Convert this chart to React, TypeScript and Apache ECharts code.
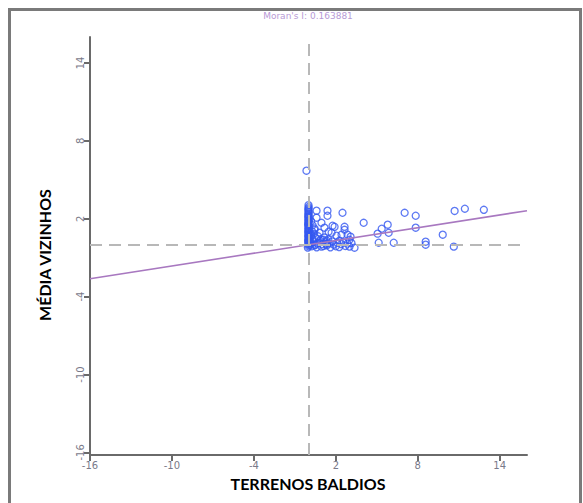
import React, { useEffect, useRef } from "react";
import * as echarts from "echarts";

// Tick labels (both axes)
const xTicks = [-16, -10, -4, 2, 8, 14];
const yTicks = [-16, -10, -4, 2, 8, 14];

// Column of observations with x ≈ 0 (standardized value at zero)
const columnX = [-0.05, 0.0, 0.03, -0.02, 0.02, 0.0, -0.03, 0.01, 0.0, 0.02, -0.01, 0.0, 0.03, -0.02, 0.0, 0.01, -0.01, 0.02, 0.0, -0.02, 0.01, 0.0, 0.02, -0.01, 0.0, 0.01, -0.02, 0.0, 0.02, 0.0, -0.01, 0.0, 0.01, 0.0, 0.02, -0.01, 0.0, 0.01, -0.02, 0.0, 0.01, -0.15];
const columnY = [-0.22, -0.12, -0.03, 0.06, 0.14, 0.22, 0.31, 0.4, 0.5, 0.6, 0.7, 0.8, 0.9, 1.0, 1.1, 1.2, 1.3, 1.4, 1.5, 1.6, 1.7, 1.8, 1.9, 2.0, 2.1, 2.2, 2.3, 2.4, 2.5, 2.6, 2.7, 2.8, 2.9, 3.05, 0.35, 0.65, 0.95, 1.25, 1.55, 1.85, 2.15, 5.7];

// Dense band just above / below the horizontal zero line
const bandX = [0.15, 0.25, 0.35, 0.5, 0.6, 0.75, 0.85, 1.0, 1.1, 1.25, 1.35, 1.5, 1.6, 1.75, 1.85, 2.0, 2.1, 2.25, 2.4, 2.55, 2.7, 2.85, 3.0, 3.15, 0.3, 0.55, 0.9, 1.15, 1.45, 0.2, 0.4, 0.7, 0.25, 0.45, 0.3, 0.2, 0.1, 0.12, 0.1, 0.15, 0.45, 0.65, 0.95, 1.3];
const bandY = [0.1, -0.12, 0.22, 0.0, -0.2, 0.15, 0.3, 0.05, -0.1, 0.2, -0.05, 0.1, -0.2, 0.25, 0.0, -0.12, 0.15, -0.18, 0.05, 0.2, -0.1, 0.08, -0.15, 0.12, 0.45, 0.5, 0.42, 0.55, 0.4, 0.7, 0.85, 0.65, 1.05, 1.25, 1.5, 1.8, 0.0, 0.3, 0.6, 0.9, -0.05, 0.1, -0.15, 0.05];

// Scattered observations
const scatterX = [0.59, 1.39, 2.49, 0.59, 1.39, 0.95, 0.44, 1.17, 1.76, 0.81, 1.69, 2.05, 2.64, 2.86, 3.0, 2.27, 3.37, 1.32, 2.64, 4.04, 5.06, 5.14, 5.36, 5.8, 5.87, 6.24, 7.04, 7.85, 7.85, 8.58, 8.58, 9.83, 10.64, 10.7, 11.45, 12.84, 3.08, 2.42, 1.91, 1.47, 1.1];
const scatterY = [2.62, 2.62, 2.46, 2.08, 2.23, 1.69, 1.15, 1.31, 1.46, 0.92, 0.92, 0.69, 1.15, 0.77, 0.38, 0.31, -0.23, 0.31, 1.38, 1.69, 0.85, 0.15, 1.23, 1.54, 0.92, 0.15, 2.46, 2.23, 1.31, 0.23, 0.0, 0.77, -0.15, 2.6, 2.77, 2.69, 0.62, 0.77, 1.38, 1.0, 0.38];

// Fitted regression line (slope ≈ Moran's I)
const regX = [-16, 16];
const regY = [-2.62, 2.62];

const titleText = "Moran's I: 0.163881";
const xName = "TERRENOS BALDIOS";
const yName = "MÉDIA VIZINHOS";

export default function App() {
  const ref = useRef<HTMLDivElement>(null);

  useEffect(() => {
    if (!ref.current) return;
    const chart = echarts.init(ref.current, undefined, { renderer: "svg" });

    const pts: number[][] = [];
    columnX.forEach((x, i) => pts.push([x, columnY[i]]));
    bandX.forEach((x, i) => pts.push([x, bandY[i]]));
    scatterX.forEach((x, i) => pts.push([x, scatterY[i]]));

    const axisCommon = {
      axisLine: { onZero: false, lineStyle: { color: "#6a6a6a", width: 2 } },
      splitLine: { show: false },
    };

    chart.setOption({
      animation: false,
      backgroundColor: "#ffffff",
      grid: { left: 90, right: 56, top: 37, bottom: 48 },
      xAxis: {
        type: "value",
        min: -16,
        max: 16,
        ...axisCommon,
        axisTick: { length: 6, lineStyle: { color: "#6a6a6a", width: 2 }, customValues: xTicks },
        axisLabel: {
          customValues: xTicks,
          color: "#7a7a8a",
          fontSize: 10,
          fontFamily: "DejaVu Sans",
          margin: 5,
        },
      },
      yAxis: {
        type: "value",
        min: -16.2,
        max: 16,
        ...axisCommon,
        axisTick: { length: 6, lineStyle: { color: "#6a6a6a", width: 2 }, customValues: yTicks },
        axisLabel: {
          customValues: yTicks,
          rotate: 90,
          color: "#7a7a8a",
          fontSize: 10,
          fontFamily: "DejaVu Sans",
          margin: 5,
        },
      },
      series: [
        {
          type: "scatter",
          data: pts,
          symbol: "circle",
          symbolSize: 7,
          itemStyle: { color: "rgba(255,255,255,0)", borderColor: "#3558f0", borderWidth: 1.3 },
          markLine: {
            silent: true,
            symbol: "none",
            label: { show: false },
            lineStyle: { type: [12, 7], color: "#b8b8b8", width: 2 },
            data: [{ xAxis: 0 }, { yAxis: 0 }],
          },
          z: 3,
        },
        {
          type: "line",
          data: regX.map((x, i) => [x, regY[i]]),
          showSymbol: false,
          lineStyle: { color: "#a878c0", width: 1.6 },
          z: 4,
        },
      ],
      graphic: [
        {
          type: "rect",
          shape: { x: 9.5, y: 9.5, width: 571, height: 520 },
          style: { fill: "none", stroke: "#7a7a7a", lineWidth: 3 },
          silent: true,
        },
        {
          type: "text",
          x: 308,
          y: 16,
          style: {
            text: titleText,
            fill: "#b79ad6",
            font: "9px DejaVu Sans",
            align: "center",
            verticalAlign: "middle",
          },
        },
        {
          type: "text",
          x: 308,
          y: 483,
          style: {
            text: xName,
            fill: "#000000",
            font: "bold 16px Lato",
            align: "center",
            verticalAlign: "middle",
          },
        },
        {
          type: "text",
          x: 44,
          y: 255,
          rotation: Math.PI / 2,
          style: {
            text: yName,
            fill: "#000000",
            font: "bold 16px Lato",
            align: "center",
            verticalAlign: "middle",
          },
        },
      ],
    });

    return () => chart.dispose();
  }, []);

  return (
    <div
      ref={ref}
      style={{ position: "fixed", left: 0, top: 0, width: 583, height: 503 }}
    />
  );
}
